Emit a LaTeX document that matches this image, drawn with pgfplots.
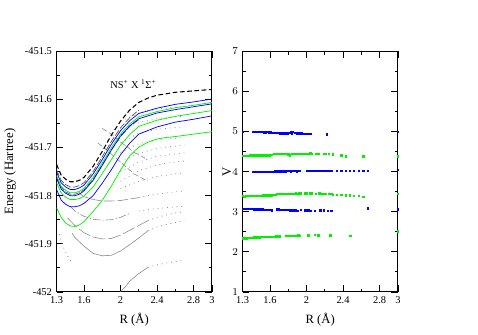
\documentclass[border=0pt]{standalone}
\usepackage{fontspec}
\setmainfont{Liberation Serif}
\usepackage{pgfplots}
\pgfplotsset{compat=1.18}
\definecolor{xgreen}{RGB}{0,240,0}
\definecolor{xblue}{RGB}{0,0,255}
\definecolor{lgray}{RGB}{140,140,140}
\definecolor{dgray}{RGB}{80,80,80}
\pgfplotsset{
  common/.style={
    scale only axis, width=117.75pt, height=182.25pt,
    xmin=1.3, xmax=3,
    xtick={1.3,1.6,2,2.4,2.8,3}, xticklabels={1.3,1.6,2,2.4,2.8,3},
    minor xtick={1.8,2.2,2.6},
    tick align=inside, major tick length=5pt, minor tick length=2.5pt,
    every tick/.style={black, line width=0.5pt},
    axis line style={line width=0.6pt},
    ticklabel style={font=\fontsize{7.9}{9}\selectfont},
    label style={font=\fontsize{9.6}{11}\selectfont},
    xlabel={R (Å)},
  },
  gl/.style={lgray, line width=0.45pt},
  gdot/.style={lgray, line width=0.6pt, dash pattern=on 0.6pt off 3pt},
}
\begin{document}
\begin{tikzpicture}
\path (0,0) rectangle (358.5pt,253.5pt);
% ---------------- left panel ----------------
\begin{axis}[common, at={(39pt,32.25pt)}, anchor=south west,
  ymin=-452, ymax=-451.5,
  ytick={-452,-451.9,-451.8,-451.7,-451.6,-451.5},
  yticklabels={-452,-451.9,-451.8,-451.7,-451.6,-451.5},
  minor ytick={-451.95,-451.85,-451.75,-451.65,-451.55},
  ylabel={Energy (Hartree)}]
% upper dotted fringe curves
\addplot[gdot] coordinates {(2.0,-451.645)(2.2,-451.628)(2.4,-451.620)(2.55,-451.617)(2.7,-451.615)};
\addplot[gdot] coordinates {(2.0,-451.665)(2.2,-451.648)(2.4,-451.640)(2.55,-451.637)(2.7,-451.635)};
\addplot[gdot] coordinates {(2.0,-451.690)(2.2,-451.670)(2.4,-451.662)(2.55,-451.659)(2.7,-451.657)};
\addplot[gdot] coordinates {(2.0,-451.710)(2.2,-451.692)(2.4,-451.684)(2.55,-451.681)(2.7,-451.679)};
\addplot[gdot] coordinates {(2.0,-451.730)(2.2,-451.712)(2.4,-451.702)(2.55,-451.698)(2.7,-451.695)};
\addplot[gdot] coordinates {(2.0,-451.750)(2.2,-451.730)(2.4,-451.718)(2.55,-451.714)(2.7,-451.711)};
\addplot[gdot] coordinates {(2.0,-451.770)(2.2,-451.748)(2.4,-451.736)(2.55,-451.731)(2.7,-451.728)};
\addplot[gdot] coordinates {(2.0,-451.785)(2.2,-451.770)(2.4,-451.760)(2.55,-451.756)(2.7,-451.752)};
% gray diagonal dashed
\addplot[gl, dash pattern=on 4pt off 2pt] coordinates {(1.75,-451.690)(1.85,-451.705)(2.0,-451.730)(2.15,-451.755)(2.3,-451.770)};
\addplot[gl, dash pattern=on 4pt off 2pt] coordinates {(1.8,-451.660)(1.9,-451.672)(2.0,-451.688)(2.15,-451.710)(2.3,-451.725)};
% lower gray curves
\addplot[gl, dash pattern=on 8pt off 2pt] coordinates {(1.55,-451.795)(1.6,-451.802)(1.7,-451.808)(1.8,-451.811)(1.9,-451.811)(2.0,-451.810)(2.1,-451.807)(2.2,-451.804)};
\addplot[gdot] coordinates {(2.2,-451.804)(2.3,-451.800)(2.4,-451.797)(2.5,-451.794)(2.6,-451.792)(2.7,-451.790)};
\addplot[gl, dash pattern=on 6pt off 1.5pt on 1pt off 1.5pt] coordinates {(1.45,-451.822)(1.5,-451.832)(1.6,-451.843)(1.7,-451.849)(1.8,-451.851)(1.9,-451.850)(2.0,-451.845)(2.1,-451.837)};
\addplot[gdot] coordinates {(2.2,-451.832)(2.35,-451.828)(2.5,-451.825)(2.7,-451.822)};
\addplot[gl, dash pattern=on 10pt off 2pt] coordinates {(1.42,-451.846)(1.5,-451.862)(1.6,-451.877)(1.7,-451.886)(1.8,-451.890)(1.9,-451.889)(2.0,-451.882)(2.1,-451.872)(2.2,-451.862)(2.3,-451.852)};
\addplot[gdot] coordinates {(2.3,-451.852)(2.4,-451.845)(2.5,-451.840)(2.6,-451.836)(2.7,-451.833)};
\addplot[gl] coordinates {(1.47,-451.878)(1.5,-451.887)(1.6,-451.905)(1.7,-451.920)(1.8,-451.925)(1.9,-451.924)(2.0,-451.915)(2.1,-451.902)(2.2,-451.888)(2.3,-451.873)};
\addplot[gdot] coordinates {(2.3,-451.873)(2.4,-451.865)(2.5,-451.860)(2.6,-451.856)(2.7,-451.852)};
\addplot[gl] coordinates {(2.0,-452.0)(2.05,-451.990)(2.1,-451.978)(2.2,-451.962)(2.3,-451.949)};
\addplot[gdot] coordinates {(2.3,-451.949)(2.4,-451.944)(2.5,-451.940)(2.6,-451.937)(2.7,-451.934)};
\addplot[gdot] coordinates {(1.33,-451.880)(1.37,-451.905)(1.42,-451.925)(1.47,-451.940)};
% dark gray curves among the coloured ones
\addplot[dgray, line width=0.5pt, dash pattern=on 5pt off 1.5pt] coordinates {(1.3,-451.746)(1.35,-451.768)(1.4,-451.777)(1.45,-451.782)(1.5,-451.782)(1.55,-451.779)(1.6,-451.773)(1.7,-451.750)(1.8,-451.719)(1.9,-451.687)(2.0,-451.659)(2.1,-451.638)(2.2,-451.622)};
\addplot[dgray, line width=0.5pt, dash pattern=on 5pt off 1.5pt] coordinates {(1.3,-451.762)(1.35,-451.783)(1.4,-451.792)(1.45,-451.797)(1.5,-451.797)(1.55,-451.794)(1.6,-451.788)(1.7,-451.766)(1.8,-451.736)(1.9,-451.705)(2.0,-451.677)(2.1,-451.656)(2.2,-451.642)};
% coloured curves
\addplot[xblue, line width=0.55pt] coordinates {(1.3,-451.751)(1.35,-451.773)(1.4,-451.782)(1.45,-451.787)(1.5,-451.787)(1.55,-451.784)(1.6,-451.778)(1.7,-451.755)(1.8,-451.725)(1.9,-451.693)(2.0,-451.665)(2.1,-451.644)(2.2,-451.629)(2.4,-451.618)(2.6,-451.610)(2.8,-451.605)(3.0,-451.599)};
\addplot[xgreen, line width=0.55pt] coordinates {(1.3,-451.758)(1.35,-451.780)(1.4,-451.789)(1.45,-451.794)(1.5,-451.794)(1.55,-451.791)(1.6,-451.785)(1.7,-451.762)(1.8,-451.732)(1.9,-451.700)(2.0,-451.672)(2.1,-451.651)(2.2,-451.636)(2.4,-451.625)(2.6,-451.617)(2.8,-451.612)(3.0,-451.606)};
\addplot[xblue, line width=0.55pt] coordinates {(1.3,-451.764)(1.35,-451.786)(1.4,-451.795)(1.45,-451.800)(1.5,-451.800)(1.55,-451.797)(1.6,-451.790)(1.7,-451.768)(1.8,-451.737)(1.9,-451.705)(2.0,-451.676)(2.1,-451.655)(2.2,-451.640)(2.4,-451.628)(2.6,-451.621)(2.8,-451.615)(3.0,-451.609)};
\addplot[xgreen, line width=0.55pt] coordinates {(1.3,-451.773)(1.35,-451.794)(1.4,-451.803)(1.45,-451.808)(1.5,-451.808)(1.55,-451.806)(1.6,-451.801)(1.7,-451.782)(1.8,-451.754)(1.9,-451.725)(2.0,-451.695)(2.1,-451.673)(2.2,-451.656)(2.4,-451.643)(2.6,-451.635)(2.8,-451.629)(3.0,-451.623)};
\addplot[xblue, line width=0.55pt] coordinates {(1.3,-451.787)(1.35,-451.809)(1.4,-451.818)(1.45,-451.823)(1.5,-451.823)(1.55,-451.821)(1.6,-451.816)(1.7,-451.800)(1.8,-451.774)(1.9,-451.746)(2.0,-451.715)(2.1,-451.691)(2.2,-451.672)(2.4,-451.657)(2.6,-451.647)(2.8,-451.641)(3.0,-451.634)};
\addplot[xgreen, line width=0.55pt] coordinates {(1.3,-451.825)(1.35,-451.845)(1.4,-451.857)(1.45,-451.863)(1.5,-451.864)(1.55,-451.861)(1.6,-451.854)(1.7,-451.833)(1.8,-451.810)(1.9,-451.780)(2.0,-451.747)(2.1,-451.717)(2.2,-451.699)(2.3,-451.689)(2.4,-451.682)(2.5,-451.679)(2.6,-451.677)(2.8,-451.672)(3.0,-451.667)};
% reference state
\addplot[black, line width=0.8pt, dash pattern=on 3.5pt off 2pt] coordinates {(1.3,-451.735)(1.35,-451.757)(1.4,-451.766)(1.45,-451.771)(1.5,-451.771)(1.55,-451.768)(1.6,-451.762)(1.7,-451.739)(1.8,-451.708)(1.9,-451.674)(2.0,-451.645)(2.1,-451.622)(2.2,-451.606)(2.3,-451.597)(2.4,-451.591)(2.6,-451.585)(2.8,-451.582)(3.0,-451.579)};
\node[font=\fontsize{7.9}{9}\selectfont] at (axis cs:2.14,-451.568) {NS\textsuperscript{+} X \textsuperscript{1}Σ\textsuperscript{+}};
\end{axis}
% ---------------- right panel ----------------
\begin{axis}[common, at={(180pt,32.25pt)}, anchor=south west,
  ymin=1, ymax=7, ytick={1,2,3,4,5,6,7}, minor y tick num=1,
  ylabel={V}, ylabel style={yshift=-6pt},
  every axis plot/.append style={only marks, mark=square*, mark size=0.5pt}]
\addplot[xblue] coordinates {(1.30,5.00)(1.41,5.00)(1.43,4.99)(1.45,4.99)(1.47,5.00)(1.49,4.99)(1.51,4.99)(1.53,4.98)(1.55,4.98)(1.57,4.99)(1.59,4.98)(1.61,4.98)(1.63,4.97)(1.65,4.97)(1.67,4.97)(1.69,4.97)(1.71,4.96)(1.73,4.96)(1.75,4.96)(1.77,4.96)(1.79,4.96)(1.81,4.97)(1.83,4.99)(1.84,4.96)(1.85,5.00)(1.87,4.97)(1.89,4.96)(1.91,4.96)(1.93,4.96)(1.95,4.96)(1.97,4.95)(1.99,4.95)(2.01,4.95)(2.03,4.95)(2.05,4.95)(2.22,4.93)(3.00,5.00)};
\addplot[xgreen] coordinates {(1.30,4.40)(1.32,4.40)(1.34,4.40)(1.36,4.40)(1.38,4.41)(1.40,4.41)(1.42,4.41)(1.44,4.41)(1.46,4.41)(1.48,4.41)(1.50,4.41)(1.52,4.41)(1.54,4.41)(1.56,4.41)(1.58,4.41)(1.60,4.41)(1.62,4.42)(1.64,4.44)(1.66,4.44)(1.68,4.44)(1.70,4.44)(1.72,4.44)(1.74,4.44)(1.76,4.44)(1.78,4.44)(1.80,4.43)(1.82,4.41)(1.84,4.44)(1.86,4.45)(1.88,4.44)(1.90,4.45)(1.92,4.45)(1.94,4.45)(1.96,4.45)(1.98,4.44)(2.00,4.45)(2.02,4.45)(2.04,4.46)(2.06,4.45)(2.10,4.45)(2.13,4.45)(2.19,4.45)(2.21,4.44)(2.24,4.44)(2.29,4.43)(2.38,4.41)(2.43,4.38)(2.62,4.38)(3.00,4.38)};
\addplot[xblue] coordinates {(1.41,3.99)(1.43,3.99)(1.45,3.99)(1.47,3.99)(1.49,3.99)(1.51,4.00)(1.53,3.99)(1.55,3.99)(1.57,4.00)(1.59,4.00)(1.61,4.00)(1.63,4.00)(1.65,4.01)(1.67,4.01)(1.69,4.01)(1.71,4.01)(1.73,4.01)(1.75,4.01)(1.77,4.01)(1.79,4.02)(1.81,4.02)(1.83,4.01)(1.85,4.02)(1.87,4.02)(1.89,4.01)(1.91,4.02)(1.93,4.02)(2.00,4.02)(2.02,4.02)(2.04,4.02)(2.06,4.02)(2.08,4.02)(2.10,4.02)(2.12,4.03)(2.14,4.03)(2.16,4.03)(2.18,4.02)(2.20,4.03)(2.22,4.03)(2.24,4.03)(2.26,4.02)(2.28,4.03)(2.33,4.03)(2.38,4.03)(2.43,4.03)(2.47,4.03)(2.52,4.03)(2.57,4.03)(2.62,4.03)(2.67,4.03)(3.00,4.04)};
\addplot[xgreen] coordinates {(1.30,3.39)(1.32,3.38)(1.34,3.39)(1.36,3.39)(1.38,3.39)(1.40,3.39)(1.42,3.40)(1.44,3.40)(1.46,3.40)(1.48,3.40)(1.50,3.40)(1.52,3.41)(1.54,3.41)(1.56,3.41)(1.58,3.41)(1.60,3.41)(1.62,3.41)(1.64,3.42)(1.66,3.43)(1.68,3.44)(1.70,3.44)(1.72,3.44)(1.74,3.44)(1.76,3.44)(1.78,3.44)(1.80,3.45)(1.82,3.45)(1.84,3.45)(1.86,3.45)(1.88,3.46)(1.90,3.45)(1.92,3.46)(1.94,3.46)(1.98,3.46)(2.00,3.46)(2.04,3.46)(2.06,3.46)(2.10,3.45)(2.14,3.46)(2.16,3.45)(2.19,3.44)(2.21,3.45)(2.24,3.45)(2.27,3.44)(2.29,3.43)(2.33,3.43)(2.38,3.42)(2.43,3.41)(2.47,3.41)(2.52,3.40)(2.57,3.40)(2.62,3.38)(3.00,3.44)};
\addplot[xblue] coordinates {(1.30,3.08)(1.32,3.08)(1.34,3.08)(1.36,3.07)(1.38,3.07)(1.40,3.07)(1.42,3.06)(1.44,3.06)(1.46,3.06)(1.48,3.06)(1.50,3.06)(1.52,3.06)(1.54,3.05)(1.56,3.05)(1.58,3.05)(1.60,3.05)(1.62,3.04)(1.68,3.06)(1.70,3.06)(1.72,3.05)(1.74,3.05)(1.76,3.05)(1.78,3.05)(1.80,3.05)(1.82,3.04)(1.84,3.04)(1.86,3.04)(1.88,3.04)(1.90,3.03)(1.94,3.05)(1.98,3.04)(2.00,3.04)(2.02,3.04)(2.05,3.03)(2.09,3.03)(2.15,3.04)(2.19,3.04)(2.23,3.03)(2.27,3.03)(2.67,3.09)(3.00,3.06)};
\addplot[xgreen] coordinates {(1.30,2.34)(1.32,2.34)(1.34,2.34)(1.36,2.35)(1.38,2.35)(1.40,2.35)(1.43,2.36)(1.45,2.36)(1.47,2.36)(1.49,2.36)(1.51,2.37)(1.53,2.37)(1.55,2.37)(1.57,2.38)(1.59,2.38)(1.61,2.38)(1.63,2.38)(1.65,2.38)(1.67,2.39)(1.69,2.39)(1.71,2.39)(1.77,2.40)(1.79,2.40)(1.81,2.40)(1.83,2.40)(1.85,2.40)(1.87,2.40)(1.89,2.40)(1.91,2.41)(1.93,2.40)(2.02,2.41)(2.09,2.42)(2.13,2.41)(2.26,2.41)(2.48,2.40)(3.00,2.51)};
\end{axis}
\end{tikzpicture}
\end{document}
